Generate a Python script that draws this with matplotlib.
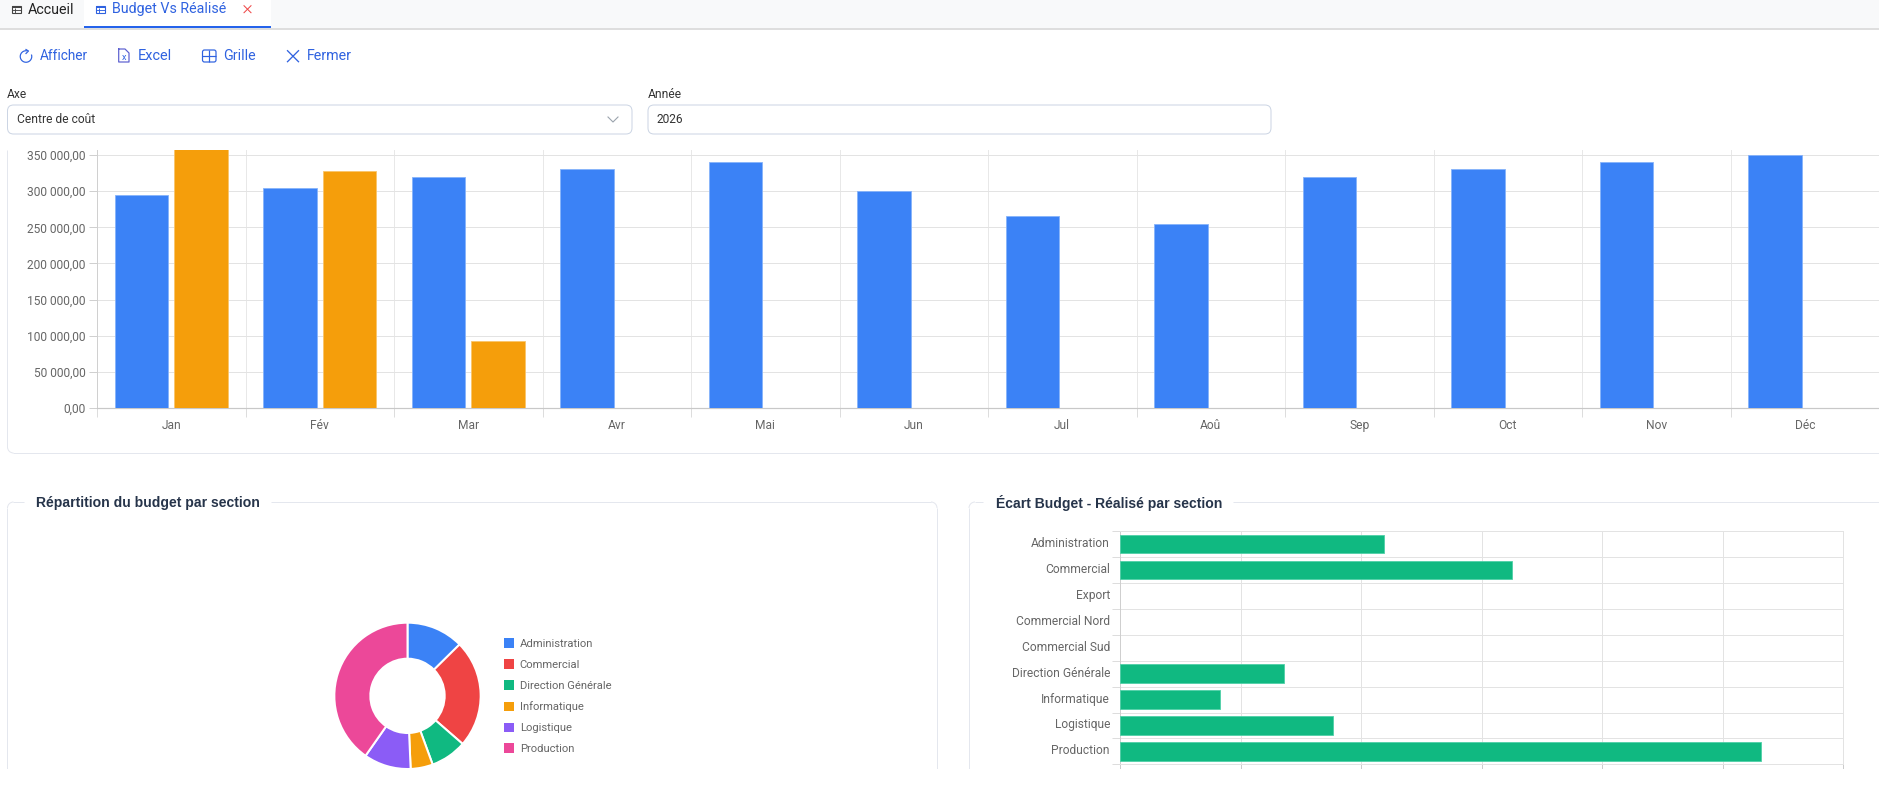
import matplotlib
matplotlib.use("Agg")
import matplotlib.pyplot as plt
from matplotlib.patches import Rectangle, FancyBboxPatch, Arc
from matplotlib.ticker import FuncFormatter
from matplotlib.transforms import ScaledTranslation

W, H = 1879, 808
DPI = 100
PX = 72 / DPI

MONTHS = ["Jan", "Fév", "Mar", "Avr", "Mai", "Jun", "Jul", "Aoû", "Sep", "Oct", "Nov", "Déc"]
BUDGET = [295000, 305000, 320000, 330000, 340000, 300000, 265000, 255000, 320000, 330000, 340000, 350000]
REALISE = [360000, 328000, 92000, 0, 0, 0, 0, 0, 0, 0, 0, 0]

DONUT_LABELS = ["Administration", "Commercial", "Direction Générale", "Informatique", "Logistique", "Production"]
DONUT_VALUES = [460000, 869000, 292000, 179000, 380000, 1470000]
DONUT_COLORS = ["#3b82f6", "#ef4444", "#10b981", "#f59e0b", "#8b5cf6", "#ec4899"]

SECTIONS = ["Administration", "Commercial", "Export", "Commercial Nord", "Commercial Sud",
            "Direction Générale", "Informatique", "Logistique", "Production"]
ECART = [438000, 650000, 0, 0, 0, 272000, 166000, 354000, 1064000]

BLUE = "#3b82f6"
ORANGE = "#f59e0b"
GREEN = "#10b981"
LINK = "#2f62e0"
GRID = "#e3e3e3"
BORDER = "#e4e7ee"
TEXT = "#666666"

plt.rcParams["font.family"] = ["Roboto", "DejaVu Sans"]

fig = plt.figure(figsize=(W / DPI, H / DPI), dpi=DPI, facecolor="white")


def px_axes(left, top, right, bottom, **kw):
    return fig.add_axes([left / W, 1 - bottom / H, (right - left) / W, (bottom - top) / H], **kw)


def fs(px):
    return px * PX


def edge_widths(values):
    # no outline on empty bars
    return [0.6 if v else 0 for v in values]


# page chrome, drawn in pixel coordinates
bg = fig.add_axes([0, 0, 1, 1], zorder=-1)
bg.set_xlim(0, W)
bg.set_ylim(H, 0)
bg.axis("off")


def hline(x0, x1, y, color=BORDER, lw=1.0):
    bg.plot([x0, x1], [y, y], color=color, lw=lw * PX, solid_capstyle="butt")


def vline(x, y0, y1, color=BORDER, lw=1.0):
    bg.plot([x, x], [y0, y1], color=color, lw=lw * PX, solid_capstyle="butt")


def label(x, y, s, size=14, color="#1f2937", **kw):
    kw.setdefault("va", "center")
    bg.text(x, y, s, fontsize=fs(size), color=color, **kw)


def box(x0, y0, x1, y1, edge="#ccd5e4"):
    bg.add_patch(FancyBboxPatch((x0 + 5, y0 + 5), x1 - x0 - 10, y1 - y0 - 10,
                                boxstyle="round,pad=5,rounding_size=6", fc="white", ec=edge, lw=1.0 * PX))


def table_icon(x, y, color):
    bg.add_patch(Rectangle((x, y - 3.5), 9, 7, fc="none", ec=color, lw=1.1 * PX))
    bg.add_patch(Rectangle((x, y - 3.5), 9, 2.5, fc=color, ec="none"))
    hline(x, x + 9, y + 1, color, 0.9)
    vline(x + 3, y - 1, y + 3.5, color, 0.9)


# tabs
bg.add_patch(Rectangle((0, 0), W, 28, fc="#f8f9fa", ec="none"))
bg.add_patch(Rectangle((84, 0), 187, 27, fc="white", ec="none"))
hline(0, W, 29, "#dedede", 2)
hline(84, 271, 26.5, "#2563eb", 2)
table_icon(12.5, 9.3, "#444444")
label(28, 9.5, "Accueil", 14.2, "#222222")
table_icon(96.5, 9.3, "#2f62e0")
label(112, 9.5, "Budget Vs Réalisé", 14.3, LINK)
bg.plot([244, 251], [5.7, 12.7], color="#ef4444", lw=1 * PX)
bg.plot([244, 251], [12.7, 5.7], color="#ef4444", lw=1 * PX)

# toolbar
TY = 55.5
label(40, TY, "Afficher", 13.6, LINK)
label(138, TY, "Excel", 14.5, LINK)
label(223.5, TY, "Grille", 14.2, LINK)
label(307, TY, "Fermer", 14.2, LINK)
bg.add_patch(Arc((26, 56.5), 11.5, 11.5, theta1=-20, theta2=280, ec=LINK, lw=1.2 * PX))
bg.plot([26, 28.5, 26], [49.5, 51, 53.5], color=LINK, lw=1.2 * PX)
bg.plot([118.7, 125, 129, 129, 118.7, 118.7], [49, 49, 53, 62, 62, 49],
        color="#5b5fd0", lw=1.2 * PX)
bg.text(124, 57.5, "x", fontsize=fs(9), color=LINK, ha="center", va="center")
bg.add_patch(FancyBboxPatch((204, 51.5), 10.5, 9, boxstyle="round,pad=1.5,rounding_size=2",
                            fc="none", ec=LINK, lw=1.2 * PX))
hline(202.5, 216, 56, LINK, 1.2)
vline(209.2, 50, 62, LINK, 1.2)
bg.plot([287.5, 298.5], [50.7, 61.7], color=LINK, lw=1.3 * PX)
bg.plot([287.5, 298.5], [61.7, 50.7], color=LINK, lw=1.3 * PX)

# filters
label(7, 94, "Axe", 12, "#333333")
label(648, 94, "Année", 12, "#333333")
box(7.5, 105, 632, 134)
box(648, 105, 1271, 134)
label(17, 119.5, "Centre de coût", 12, "#333333")
label(657, 119.5, "2026", 12, "#333333")
bg.plot([608, 613, 618], [117, 122, 117], color="#9aa3ad", lw=1.1 * PX)

# panel around the monthly chart, its top is scrolled away
vline(7.5, 150, 447)
bg.add_patch(Arc((13.5, 447), 12, 12, theta1=90, theta2=180, ec=BORDER, lw=1 * PX))
hline(13.5, W, 453)

# fieldsets of the two lower charts
vline(7.5, 508, 769)
vline(937, 508, 769)
bg.add_patch(Arc((13.5, 508), 12, 12, theta1=180, theta2=270, ec=BORDER, lw=1 * PX))
bg.add_patch(Arc((931, 508), 12, 12, theta1=270, theta2=360, ec=BORDER, lw=1 * PX))
hline(13.5, 24, 502.3)
hline(271, 931, 502.3)
vline(969, 508, 769)
bg.add_patch(Arc((975, 508), 12, 12, theta1=180, theta2=270, ec=BORDER, lw=1 * PX))
hline(975, 983.5, 502.3)
hline(1233.5, W, 502.3)
label(36, 503, "Répartition du budget par section", 14, "#26344a", fontweight="bold", family="Liberation Sans")
label(996.5, 503, "Écart Budget - Réalisé par section", 14, "#26344a", fontweight="bold", family="Liberation Sans")

# monthly budget vs realise
CAT = 148.7
ax = px_axes(97.0, 150, W, 408)
ax.set_xlim(-0.5, -0.5 + (W - 97.0) / CAT)
ax.set_ylim(0, 350000 * 258 / 253)
xs = list(range(len(MONTHS)))
ax.bar([x - 0.2 for x in xs], BUDGET, width=0.36, color=BLUE, edgecolor="#86b3fa",
       linewidth=edge_widths(BUDGET), zorder=3)
ax.bar([x + 0.2 for x in xs], REALISE, width=0.36, color=ORANGE, edgecolor="#f9c56b",
       linewidth=edge_widths(REALISE), zorder=3)
ax.set_yticks(range(0, 350001, 50000))
ax.yaxis.set_major_formatter(FuncFormatter(lambda v, _: f"{int(v):,}".replace(",", " ") + ",00"))
ax.set_xticks([x - 0.5 for x in range(len(MONTHS) + 1)])
ax.set_xticklabels([])
ax.set_xticks(xs, minor=True)
ax.set_xticklabels(MONTHS, minor=True)
ax.tick_params(axis="y", length=8.5 * PX, width=PX, color="#d0d0d0", labelsize=fs(12),
               labelcolor=TEXT, pad=3 * PX)
ax.tick_params(axis="x", which="major", length=8.5 * PX, width=PX, color="#dddddd")
ax.tick_params(axis="x", which="minor", length=0, labelsize=fs(12), labelcolor=TEXT, pad=11 * PX)
ax.grid(axis="y", color=GRID, lw=PX, zorder=0)
ax.grid(axis="x", which="major", color="#e8e8e8", lw=PX, zorder=0)
ax.set_axisbelow(True)
for side in ["top", "right"]:
    ax.spines[side].set_visible(False)
ax.spines["left"].set_color("#d0d0d0")
ax.spines["bottom"].set_color("#c8c8c8")
ax.spines["left"].set_linewidth(PX)
ax.spines["bottom"].set_linewidth(1.2 * PX)

# donut
dn = px_axes(334.3, 622.7, 480.7, 769)
dn.pie(DONUT_VALUES, colors=DONUT_COLORS, startangle=90, counterclock=False,
       radius=1.0, wedgeprops={"width": 36 / 73.2, "edgecolor": "white", "linewidth": 2 * PX})
dn.set_xlim(-1, 1)
dn.set_ylim(-1, 1)
handles = [Rectangle((0, 0), 1, 1, fc=c, ec="none") for c in DONUT_COLORS]
fig.legend(handles, DONUT_LABELS, loc="upper left", bbox_to_anchor=(503.7 / W, 1 - 638.5 / H),
           frameon=False, fontsize=fs(11.2), labelcolor=TEXT, borderpad=0, borderaxespad=0,
           handlelength=10 / 11.2, handleheight=10 / 11.2, handletextpad=6 / 11.2, labelspacing=0.93)

# horizontal bars
hb = px_axes(1120.0, 531.3, 1843.3, 764.3)
ys = list(range(len(SECTIONS)))
hb.barh(ys, ECART, height=0.71, color=GREEN, edgecolor="#4fd0a8", linewidth=edge_widths(ECART), zorder=3)
hb.set_ylim(len(SECTIONS) - 0.5, -0.5)
hb.set_xlim(0, 1200000)
hb.set_xticks(range(0, 1200001, 200000))
hb.set_xticklabels([])
hb.set_yticks([y - 0.5 for y in range(len(SECTIONS) + 1)])
hb.set_yticklabels([])
hb.set_yticks(ys, minor=True)
hb.set_yticklabels(SECTIONS, minor=True)
hb.tick_params(axis="y", which="major", length=8.5 * PX, width=PX, color="#dddddd")
hb.tick_params(axis="y", which="minor", length=0, labelsize=fs(12), labelcolor=TEXT, pad=10 * PX)
hb.tick_params(axis="x", length=4.5 * PX, width=PX, color="#cccccc")
hb.grid(axis="both", which="major", color=GRID, lw=PX, zorder=0)
hb.set_axisbelow(True)
for side in ["top", "right", "bottom", "left"]:
    hb.spines[side].set_color(GRID)
    hb.spines[side].set_linewidth(PX)
hb.spines["left"].set_color("#cfcfcf")
# section names sit a little above the row centre
up = ScaledTranslation(0, 2 / DPI, fig.dpi_scale_trans)
for tick_label in hb.get_yticklabels(minor=True):
    tick_label.set_transform(tick_label.get_transform() + up)

# the screenshot stops here
fig.add_artist(Rectangle((0, 0), 1, 1 - 769 / H, transform=fig.transFigure, fc="white", ec="none", zorder=20))

fig.savefig("out.png", dpi=DPI)
